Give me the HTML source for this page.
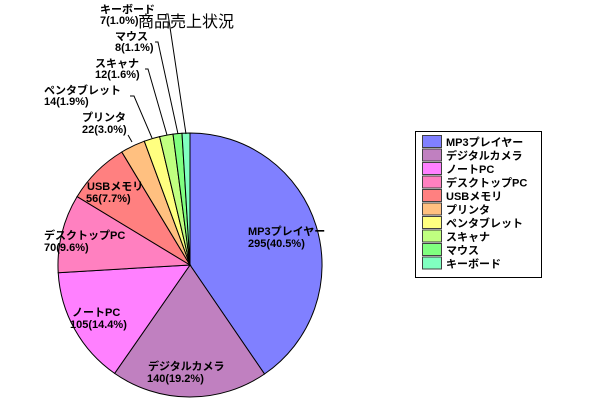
<!DOCTYPE html>
<html><head><meta charset="utf-8"><style>
body{margin:0;background:#fff;}
svg{display:block;}
text{font-family:"Liberation Sans","Noto Sans CJK JP",sans-serif;font-size:11px;font-weight:bold;fill:#000;}
</style></head><body>
<svg width="600" height="400" viewBox="0 0 600 400">
<g stroke="#000" stroke-width="1">
<path d="M190,265 L190,133 A132,132 0 0 1 264.5,374 Z" fill="#8080ff"/>
<path d="M190,265 L264.5,374 A132,132 0 0 1 114.6,373.4 Z" fill="#c080c0"/>
<path d="M190,265 L114.6,373.4 A132,132 0 0 1 58.2,272.7 Z" fill="#ff80ff"/>
<path d="M190,265 L58.2,272.7 A132,132 0 0 1 77.1,196.6 Z" fill="#ff80c0"/>
<path d="M190,265 L77.1,196.6 A132,132 0 0 1 121.8,152 Z" fill="#ff8080"/>
<path d="M190,265 L121.8,152 A132,132 0 0 1 144.3,141.2 Z" fill="#ffc080"/>
<path d="M190,265 L144.3,141.2 A132,132 0 0 1 159.6,136.6 Z" fill="#ffff80"/>
<path d="M190,265 L159.6,136.6 A132,132 0 0 1 173,134.1 Z" fill="#c0ff80"/>
<path d="M190,265 L173,134.1 A132,132 0 0 1 182,133.3 Z" fill="#80ff80"/>
<path d="M190,265 L182,133.3 A132,132 0 0 1 190,133 Z" fill="#80ffc0"/>
</g>
<g stroke="#000" stroke-width="1" fill="none">
<polyline points="166,14 168,14 186,134"/>
<polyline points="155,42 158,42 178,134"/>
<polyline points="145,69 148,69 167,135"/>
<polyline points="130,96 134,96 152,138"/>
<polyline points="128,135 132,142"/>
</g>
<text x="138" y="27" style="font-size:16px;font-weight:normal">商品売上状況</text>
<text x="100" y="13">キーボード</text><text x="100" y="24">7(1.0%)</text>
<text x="115" y="40">マウス</text><text x="115" y="51">8(1.1%)</text>
<text x="95" y="67">スキャナ</text><text x="95" y="78">12(1.6%)</text>
<text x="44" y="94">ペンタブレット</text><text x="44" y="105">14(1.9%)</text>
<text x="82" y="121">プリンタ</text><text x="82" y="133">22(3.0%)</text>
<text x="87" y="190">USBメモリ</text><text x="86" y="202">56(7.7%)</text>
<text x="44" y="239">デスクトップPC</text><text x="44" y="251">70(9.6%)</text>
<text x="248" y="235">MP3プレイヤー</text><text x="248" y="247">295(40.5%)</text>
<text x="72" y="316">ノートPC</text><text x="70" y="328">105(14.4%)</text>
<text x="148" y="370">デジタルカメラ</text><text x="147" y="382">140(19.2%)</text>
<rect x="415.5" y="131.5" width="126" height="146" fill="#fff" stroke="#000"/>
<g stroke="#404040" stroke-width="1">
<rect x="422.5" y="135.5" width="19" height="12" fill="#8080ff"/>
<rect x="422.5" y="149" width="19" height="12" fill="#c080c0"/>
<rect x="422.5" y="162.5" width="19" height="12" fill="#ff80ff"/>
<rect x="422.5" y="176" width="19" height="12" fill="#ff80c0"/>
<rect x="422.5" y="189.5" width="19" height="12" fill="#ff8080"/>
<rect x="422.5" y="203" width="19" height="12" fill="#ffc080"/>
<rect x="422.5" y="216.5" width="19" height="12" fill="#ffff80"/>
<rect x="422.5" y="230" width="19" height="12" fill="#c0ff80"/>
<rect x="422.5" y="243.5" width="19" height="12" fill="#80ff80"/>
<rect x="422.5" y="257" width="19" height="12" fill="#80ffc0"/>
</g>
<text x="446" y="146">MP3プレイヤー</text>
<text x="446" y="159.5">デジタルカメラ</text>
<text x="446" y="173">ノートPC</text>
<text x="446" y="186.5">デスクトップPC</text>
<text x="446" y="200">USBメモリ</text>
<text x="446" y="213.5">プリンタ</text>
<text x="446" y="227">ペンタブレット</text>
<text x="446" y="240.5">スキャナ</text>
<text x="446" y="254">マウス</text>
<text x="446" y="267.5">キーボード</text>
</svg>
</body></html>
